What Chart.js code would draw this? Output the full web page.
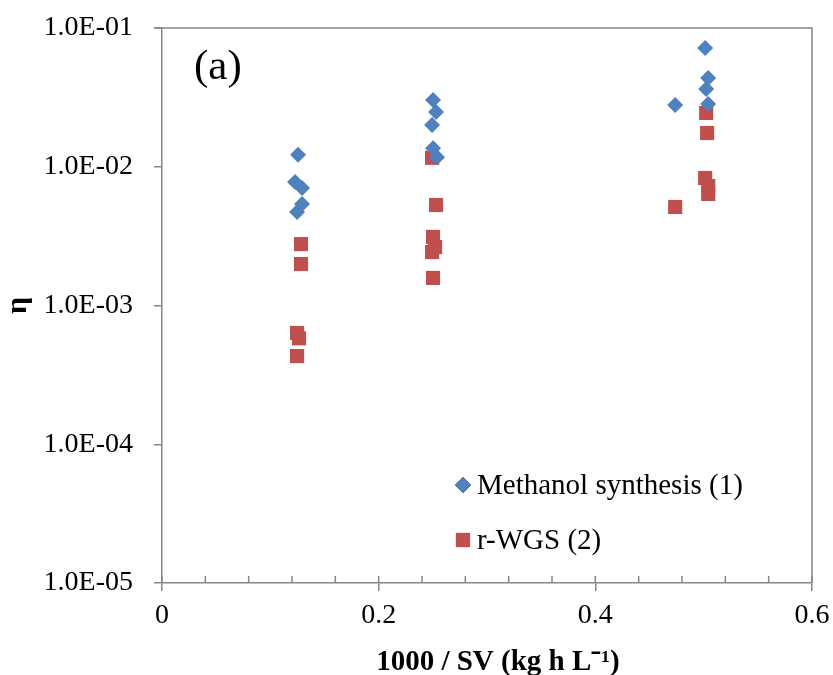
<!DOCTYPE html>
<html>
<head>
<meta charset="utf-8">
<script src="https://cdn.jsdelivr.net/npm/chart.js@4"></script>
<style>
  html, body { margin: 0; padding: 0; background: #fff; }
  #wrap { width: 833px; height: 675px; }
</style>
</head>
<body>
<div id="wrap"><canvas id="chart" width="833" height="675"></canvas></div>
<script>
// values
const methanolX = [0.1256, 0.1228, 0.1293, 0.1293, 0.1247,
                   0.2502, 0.2530, 0.2493, 0.2502, 0.2539,
                   0.5014, 0.5042, 0.5023, 0.5042, 0.4737];
const methanolY = [0.0122, 0.00776, 0.00703, 0.0054, 0.00472,
                   0.0303, 0.0248, 0.0200, 0.0136, 0.0117,
                   0.0718, 0.0436, 0.0363, 0.0283, 0.0279];
const rwgsX = [0.1283, 0.1283, 0.1247, 0.1265, 0.1247,
               0.2493, 0.2530, 0.2502, 0.2521, 0.2493, 0.2502,
               0.5023, 0.5032, 0.5014, 0.5042, 0.5042, 0.4737];
const rwgsY = [0.00277, 0.00199, 0.000634, 0.00058, 0.000432,
               0.0116, 0.0053, 0.00312, 0.00264, 0.00243, 0.00158,
               0.0244, 0.0175, 0.0083, 0.00726, 0.00637, 0.00513];
const yTicks = [1e-5, 1e-4, 1e-3, 1e-2, 1e-1];
const xMajor = [0, 0.2, 0.4, 0.6];
const seriesNames = ['Methanol synthesis (1)', 'r-WGS (2)'];

const axisColor = '#868686';
const font = 'Liberation Serif';

const toPoints = (xs, ys) => xs.map((x, i) => ({ x: x, y: ys[i] }));

const decorations = {
    id: 'decorations',
    afterDraw(chart) {
        const ctx = chart.ctx;
        const a = chart.chartArea;
        const xs = chart.scales.x;
        ctx.save();
        ctx.strokeStyle = axisColor;
        ctx.lineWidth = 1.5;
        // top and right border
        ctx.beginPath();
        ctx.moveTo(a.left - 8, a.top);
        ctx.lineTo(a.right, a.top);
        ctx.lineTo(a.right, a.bottom);
        ctx.stroke();
        // inside ticks on x axis
        ctx.beginPath();
        for (let i = 0; i <= 15; i++) {
            const px = xs.getPixelForValue(i * 0.04);
            ctx.moveTo(px, a.bottom);
            ctx.lineTo(px, a.bottom - 7);
        }
        ctx.stroke();
        // legend
        ctx.fillStyle = '#000';
        ctx.font = '29px "' + font + '"';
        ctx.textBaseline = 'middle';
        const rows = [485, 540];
        chart.data.datasets.forEach((ds, i) => {
            Chart.helpers.drawPoint(ctx, {
                pointStyle: ds.pointStyle,
                radius: ds.pointRadius,
                rotation: 0,
                borderWidth: 0
            }, 463, rows[i]);
            ctx.fillStyle = ds.backgroundColor;
            ctx.fill();
            ctx.fillStyle = '#000';
            ctx.fillText(ds.label, 477, rows[i] + 1);
        });
        // panel label
        ctx.font = '43px "' + font + '"';
        ctx.fillText('(a)', 194, 68);
        ctx.restore();
    }
};

new Chart(document.getElementById('chart'), {
    type: 'scatter',
    data: {
        datasets: [{
            label: seriesNames[0],
            data: toPoints(methanolX, methanolY),
            pointStyle: 'rectRot',
            pointRadius: 8,
            backgroundColor: '#4F81BD',
            borderWidth: 0
        }, {
            label: seriesNames[1],
            data: toPoints(rwgsX, rwgsY),
            pointStyle: 'rect',
            pointRadius: 10,
            backgroundColor: '#C0504D',
            borderWidth: 0
        }]
    },
    options: {
        responsive: false,
        animation: false,
        layout: { padding: { top: 28, right: 21, bottom: 0, left: 0 } },
        plugins: {
            legend: { display: false },
            tooltip: { enabled: false }
        },
        scales: {
            x: {
                type: 'linear',
                min: 0,
                max: 0.6,
                afterBuildTicks: (scale) => { scale.ticks = xMajor.map(v => ({ value: v })); },
                afterFit: (scale) => {
                    scale.height = 92;
                    scale.paddingLeft = 0;
                    scale.paddingRight = 0;
                },
                grid: { drawOnChartArea: false, color: axisColor, lineWidth: 1.5, tickLength: 8 },
                border: { color: axisColor, width: 1.5 },
                ticks: {
                    color: '#000',
                    padding: 8,
                    font: { family: font, size: 28 },
                    callback: (v) => String(Math.round(v * 10) / 10)
                },
                title: {
                    display: true,
                    text: '\u00A0\u00A0\u00A01000 / SV (kg h L\u207B\u00B9)',
                    color: '#000',
                    font: { family: font, size: 29, weight: 'bold', lineHeight: 1 },
                    padding: { top: 4, bottom: -2 }
                }
            },
            y: {
                type: 'logarithmic',
                min: 1e-5,
                max: 1e-1,
                afterBuildTicks: (scale) => { scale.ticks = yTicks.map(v => ({ value: v })); },
                afterFit: (scale) => {
                    scale.width = 162;
                    scale.paddingTop = 0;
                    scale.paddingBottom = 0;
                },
                grid: { drawOnChartArea: false, color: axisColor, lineWidth: 1.5, tickLength: 8 },
                border: { color: axisColor, width: 1.5 },
                ticks: {
                    color: '#000',
                    padding: 21,
                    font: { family: font, size: 28 },
                    callback: (v) => Number(v).toExponential(1).toUpperCase().replace(/E-(\d)$/, 'E-0$1')
                },
                title: {
                    display: true,
                    text: '\u03B7',
                    color: '#000',
                    font: { family: font, size: 30, weight: 'bold' },
                    padding: 0
                }
            }
        }
    },
    plugins: [decorations]
});
</script>
</body>
</html>
